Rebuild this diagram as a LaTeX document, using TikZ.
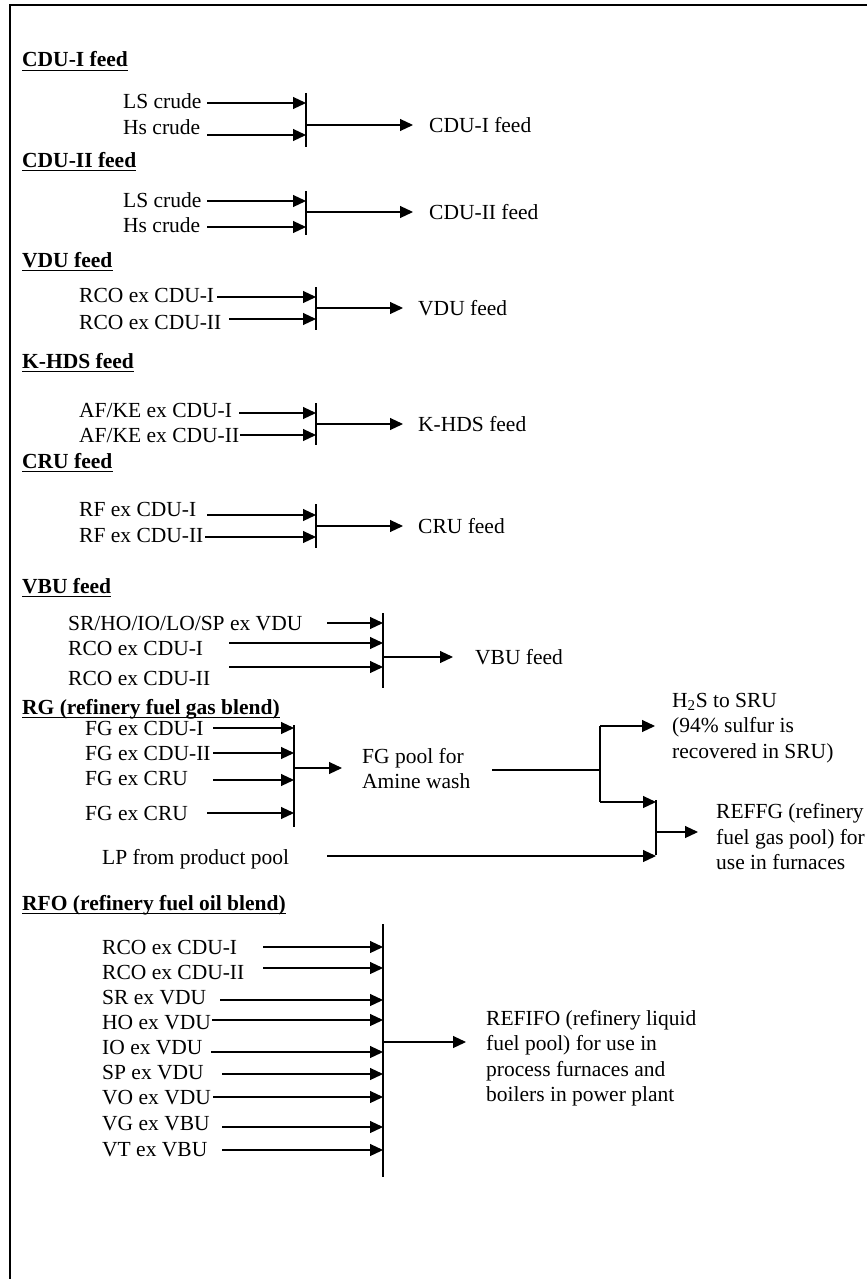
\documentclass[tikz,border=0pt]{standalone}
\usepackage{fontspec}
\setmainfont{Liberation Serif}
\usetikzlibrary{arrows.meta, calc}
\newcommand{\figsize}{\fontsize{21.5}{25.5}\selectfont}
\tikzset{
  lbl/.style={inner sep=0pt, text height=14pt, text depth=0pt, anchor=west},
  hd/.style={lbl, font=\figsize\bfseries},
  blk/.style={inner sep=0pt, align=left, anchor=west},
  flow/.style={line width=1.1pt, -{Triangle[length=13pt, width=12pt]}},
  bus/.style={line width=1.1pt}
}

\begin{document}
\begin{tikzpicture}[x=1pt, y=-1pt, font=\figsize]
\useasboundingbox (0,0) rectangle (867,1279);
% ===== frame: only top and left edge are visible =====
\draw[line width=1.2pt] (10,1279) -- (10,5) -- (867,5);
% ===== blend headings (bold, underlined) =====
\foreach \b/\y/\t in {A/60/CDU-I feed, B/160/CDU-II feed, C/260/VDU feed,
    D/361/K-HDS feed, E/461/CRU feed, F/586/VBU feed,
    G/707/RG (refinery fuel gas blend), H/903/RFO (refinery fuel oil blend)} {
  \node[hd] (h\b) at (22,\y) {\t};
  \draw[line width=1.3pt] ([yshift=-3pt]h\b.south west) -- ([yshift=-3pt]h\b.south east);
}
% ===== mixing bars =====
\foreach \b/\x/\ya/\yb in {A/306/93/147, B/306/191/235, C/316/287/330, D/316/403/445,
    E/316/504/548, F/383/613/688, G/294/725/827, H/383/924/1177} {
  \coordinate (b\b) at (\x,\ya);
  \coordinate (e\b) at (\x,\yb);
  \draw[bus] (b\b) -- (e\b);
}
% ===== feed streams into the bars =====
\foreach \n/\t/\tx/\ty/\sx/\ay/\b in {
    A1/LS crude/123/102/207/103/A, A2/Hs crude/123/128/207/135/A,
    B1/LS crude/123/200/207/201/B, B2/Hs crude/123/225/207/227/B,
    C1/RCO ex CDU-I/79/295/217/297/C, C2/RCO ex CDU-II/79/322/229/319/C,
    D1/{AF/KE ex CDU-I}/79/410/239/413/D, D2/{AF/KE ex CDU-II}/79/435/240/435/D,
    E1/RF ex CDU-I/79/509/207/515/E, E2/RF ex CDU-II/79/535/205/537/E,
    F1/{SR/HO/IO/LO/SP ex VDU}/68/623/327/623/F, F2/RCO ex CDU-I/68/648/229/643/F,
    F3/RCO ex CDU-II/68/678/229/667/F,
    G1/FG ex CDU-I/85/728/213/728/G, G2/FG ex CDU-II/85/753/213/753/G,
    G3/FG ex CRU/85/778/213/780/G, G4/FG ex CRU/85/813/207/813/G,
    H1/RCO ex CDU-I/102/947/263/947/H, H2/RCO ex CDU-II/102/972/263/968/H,
    H3/SR ex VDU/102/997/220/1000/H, H4/HO ex VDU/102/1022/212/1020/H,
    H5/IO ex VDU/102/1047/211/1052/H, H6/SP ex VDU/102/1072/222/1074/H,
    H7/VO ex VDU/102/1097/213/1097/H, H8/VG ex VBU/102/1123/222/1127/H,
    H9/VT ex VBU/102/1149/222/1150/H} {
  \node[lbl] (\n) at (\tx,\ty) {\t};
  \coordinate (s\n) at (\sx,\ay);
  \draw[flow] (s\n) -- (s\n -| b\b);
}
% ===== single-line products =====
\foreach \b/\y/\tx/\g/\t in {A/125/429/16/CDU-I feed, B/212/429/16/CDU-II feed,
    C/308/418/15/VDU feed, D/424/418/15/K-HDS feed, E/526/418/15/CRU feed,
    F/657/475/22/VBU feed} {
  \node[lbl] (f\b) at (\tx,\y) {\t};
  \coordinate (o\b) at (b\b |- 0,\y);
  \draw[flow, shorten >=\g pt] (o\b) -- (f\b.west);
}
% ===== fuel gas: amine wash, H2S split, LP make-up =====
\node[blk] (pool) at (362,768.5) {FG pool for\\Amine wash};
\coordinate (oG) at (294,768);
\draw[flow, shorten >=20pt] (oG) -- (oG -| pool.west);
\coordinate (pS) at (492,770);
\coordinate (jT) at (600,726);
\coordinate (jB) at (600,802);
\draw[bus] (pS) -- (pS -| jT);
\draw[bus] (jT) -- (jB);
\node[blk] (h2s) at (672,728) {H\textsubscript{2}S to SRU\\(94\% sulfur is\\recovered in SRU)};
\draw[flow, shorten >=17pt] (jT) -- (jT -| h2s.west);
\coordinate (mT) at (656,800);
\coordinate (mB) at (656,855);
\draw[bus] (mT) -- (mB);
\draw[flow] (jB) -- (jB -| mT);
\node[lbl] (lp) at (102,857) {LP from product pool};
\coordinate (sLP) at (327,856);
\draw[flow] (sLP) -- (sLP -| mB);
\coordinate (oM) at (656,832);
\node[blk] (reffg) at (716,837) {REFFG (refinery\\fuel gas pool) for\\use in furnaces};
\draw[flow, shorten >=18pt] (oM) -- (oM -| reffg.west);
% ===== fuel oil product =====
\node[blk] (refifo) at (486,1058) {REFIFO (refinery liquid\\fuel pool) for use in\\process furnaces and\\boilers in power plant};
\coordinate (oH) at (383,1042);
\draw[flow, shorten >=20pt] (oH) -- (oH -| refifo.west);
\end{tikzpicture}
\end{document}
